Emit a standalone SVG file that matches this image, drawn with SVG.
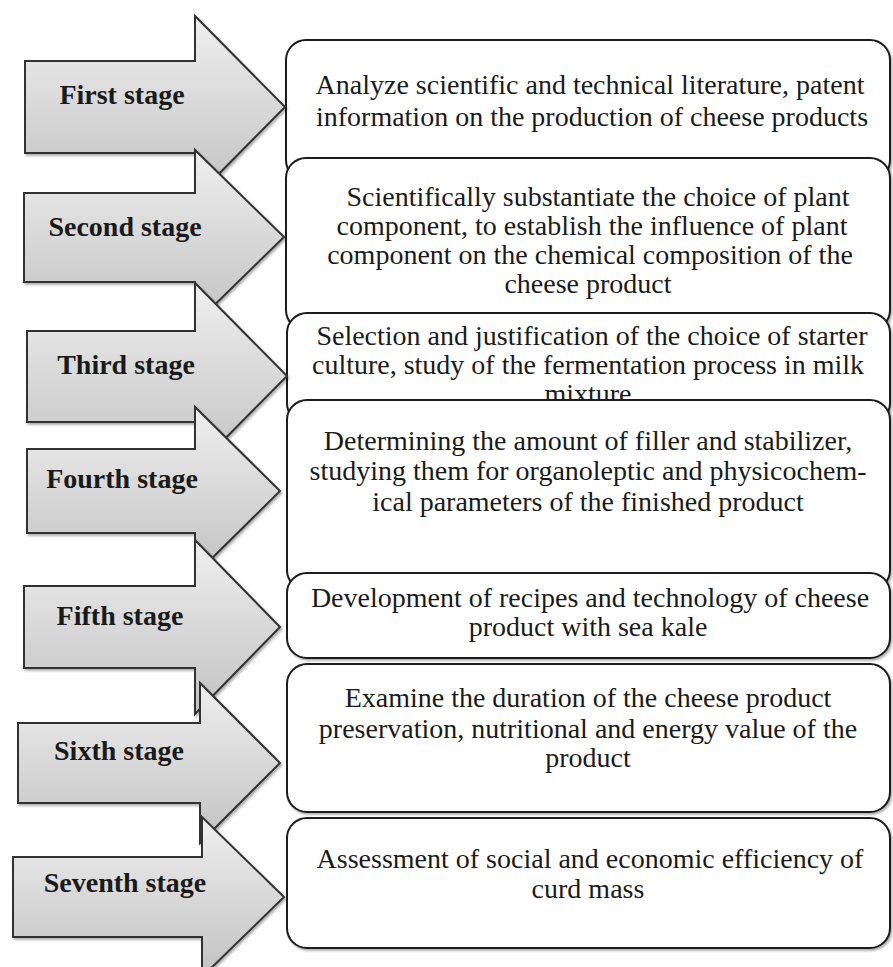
<svg xmlns="http://www.w3.org/2000/svg" width="893" height="967" viewBox="0 0 893 967">
<defs>
<linearGradient id="ag" x1="0" y1="0" x2="0" y2="1">
<stop offset="0" stop-color="#efefef"/>
<stop offset="1" stop-color="#c2c2c2"/>
</linearGradient>
<filter id="sh" x="-10%" y="-10%" width="120%" height="130%">
<feDropShadow dx="1.5" dy="2" stdDeviation="1.2" flood-color="#000" flood-opacity="0.3"/>
</filter>
</defs>
<style>
.arrow{fill:url(#ag);stroke:#333;stroke-width:2;stroke-linejoin:miter;filter:url(#sh)}
.box{fill:#fff;stroke:#1a1a1a;stroke-width:2;filter:url(#sh)}
.lbl{font-family:"Liberation Serif","Times New Roman",serif;font-weight:bold;font-size:28px;fill:#1a1a1a;text-anchor:middle}
.txt{font-family:"Liberation Serif","Times New Roman",serif;font-size:28px;fill:#1a1a1a;text-anchor:middle}
</style>
<rect width="893" height="967" fill="#fff"/>
<g id="boxes">
<g id="box1"><rect class="box" x="286" y="40" width="604" height="140" rx="20"/>
<text class="txt" x="590" y="94">Analyze scientific and technical literature, patent</text>
<text class="txt" x="592" y="126">information on the production of cheese products</text></g>
<g id="box2"><rect class="box" x="286" y="158" width="604" height="172" rx="20"/>
<text class="txt" x="598" y="206">Scientifically substantiate the choice of plant</text>
<text class="txt" x="592" y="235">component, to establish the influence of plant</text>
<text class="txt" x="590" y="264">component on the chemical composition of the</text>
<text class="txt" x="588" y="293">cheese product</text></g>
<g id="box3"><rect class="box" x="287" y="313" width="603" height="110" rx="20"/>
<text class="txt" x="592" y="345">Selection and justification of the choice of starter</text>
<text class="txt" x="588" y="374">culture, study of the fermentation process in milk</text>
<text class="txt" x="588" y="403">mixture</text></g>
<g id="box4"><rect class="box" x="287" y="400" width="603" height="190" rx="20"/>
<text class="txt" x="588" y="450">Determining the amount of filler and stabilizer,</text>
<text class="txt" x="588" y="480">studying them for organoleptic and physicochem-</text>
<text class="txt" x="588" y="511">ical parameters of the finished product</text></g>
<g id="box5"><rect class="box" x="287" y="573" width="603" height="85" rx="20"/>
<text class="txt" x="590" y="607">Development of recipes and technology of cheese</text>
<text class="txt" x="588" y="636">product with sea kale</text></g>
<g id="box6"><rect class="box" x="287" y="664" width="603" height="148" rx="20"/>
<text class="txt" x="588" y="707">Examine the duration of the cheese product</text>
<text class="txt" x="588" y="738">preservation, nutritional and energy value of the</text>
<text class="txt" x="588" y="767">product</text></g>
<g id="box7"><rect class="box" x="287" y="818" width="603" height="130" rx="20"/>
<text class="txt" x="590" y="868">Assessment of social and economic efficiency of</text>
<text class="txt" x="588" y="898">curd mass</text></g>
</g>
<g id="arrows">
<g id="arrow1"><polygon class="arrow" points="25,61 195,61 195,16 285,107 195,198 195,153 25,153"/>
<text class="lbl" x="122" y="104">First stage</text></g>
<g id="arrow2"><polygon class="arrow" points="24,193 195,193 195,150 284,237 195,324 195,282 24,282"/>
<text class="lbl" x="125" y="236">Second stage</text></g>
<g id="arrow3"><polygon class="arrow" points="27,331 195,331 195,283 287,376 195,469 195,422 27,422"/>
<text class="lbl" x="126" y="374">Third stage</text></g>
<g id="arrow4"><polygon class="arrow" points="27,449 195,449 195,407 280,491 195,575 195,533 27,533"/>
<text class="lbl" x="122" y="488">Fourth stage</text></g>
<g id="arrow5"><polygon class="arrow" points="24,586 195,586 195,540 280,627 195,714 195,668 24,668"/>
<text class="lbl" x="120" y="625">Fifth stage</text></g>
<g id="arrow6"><polygon class="arrow" points="18,723 200,723 200,683 280,763 200,843 200,803 18,803"/>
<text class="lbl" x="119" y="760">Sixth stage</text></g>
<g id="arrow7"><polygon class="arrow" points="13,857 202,857 202,817 284,897 202,977 202,937 13,937"/>
<text class="lbl" x="125" y="892">Seventh stage</text></g>
</g>
</svg>
